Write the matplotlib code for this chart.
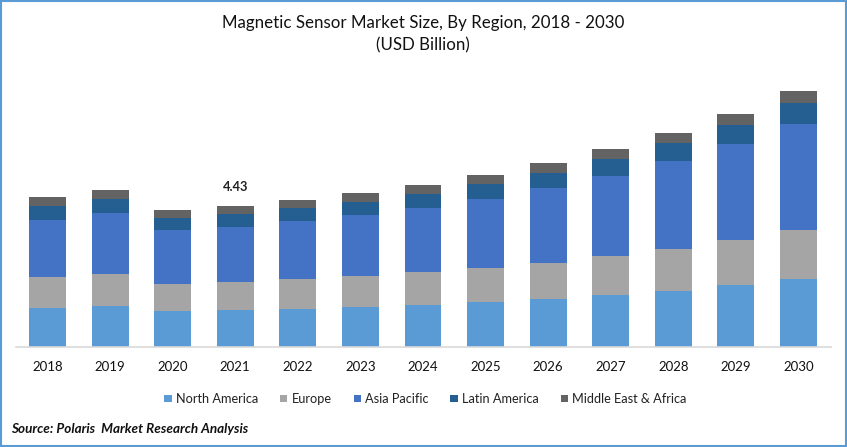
import matplotlib
matplotlib.use("Agg")
import matplotlib.pyplot as plt
from matplotlib.patches import Rectangle

years = ["2018","2019","2020","2021","2022","2023","2024","2025","2026","2027","2028","2029","2030"]
north_america = [1.23,1.29,1.13,1.16,1.19,1.26,1.32,1.41,1.51,1.63,1.76,1.95,2.14]
europe = [0.97,1.01,0.85,0.88,0.94,0.97,1.04,1.07,1.13,1.23,1.32,1.41,1.54]
asia_pacific = [1.79,1.92,1.70,1.73,1.82,1.92,2.01,2.17,2.36,2.51,2.76,3.02,3.33]
latin_america = [0.44,0.44,0.38,0.41,0.41,0.41,0.44,0.47,0.47,0.53,0.57,0.60,0.66]
mea = [0.28,0.28,0.25,0.25,0.25,0.28,0.28,0.28,0.31,0.31,0.31,0.35,0.38]
series_names = ["North America","Europe","Asia Pacific","Latin America","Middle East & Africa"]
colors = ["#5B9BD5","#A5A5A5","#4472C4","#255E91","#636363"]
series = [north_america, europe, asia_pacific, latin_america, mea]

W, H = 847, 447
plt.rcParams['font.family'] = ['Lato', 'DejaVu Sans']
fig = plt.figure(figsize=(W/100, H/100), dpi=100, facecolor="white")

# axes placement in pixels
x0, x1, ybase, ytop = 16, 831, 347, 80
ax = fig.add_axes([x0/W, 1-ybase/H, (x1-x0)/W, (ybase-ytop)/H])
pitch = 62.58
first = 47.5
ax.set_xlim((x0-first)/pitch, (x1-first)/pitch)
ax.set_ylim(0, (ybase-ytop)/31.83)

pos = list(range(len(years)))
bottom = [0.0]*len(years)
for vals, name, c in zip(series, series_names, colors):
    ax.bar(pos, vals, width=0.59, bottom=bottom, color=c, label=name, linewidth=0)
    bottom = [b+v for b, v in zip(bottom, vals)]

ax.annotate("4.43", (3, bottom[3]), xytext=(0, 9.5), textcoords="offset points",
            ha="center", va="bottom", fontsize=9.3, fontweight="bold", color="#222222")

for s in ["top","left","right"]:
    ax.spines[s].set_visible(False)
ax.spines["bottom"].set_color("#D9D9D9")
ax.spines["bottom"].set_linewidth(1.2)
ax.set_yticks([])
ax.set_xticks(pos)
ax.set_xticklabels(years, fontsize=9.5, color="#111111")
ax.tick_params(axis="x", length=0, pad=10)

leg = ax.legend(loc="center", bbox_to_anchor=((425.5-x0)/(x1-x0), (ybase-399)/(ybase-ytop)),
                ncol=5, frameon=False, fontsize=9.15, handlelength=0.58, handleheight=0.58,
                handletextpad=0.33, columnspacing=1.72, labelcolor="#222222",
                borderpad=0, borderaxespad=0)

fig.text(423/W, 1-23/H, "Magnetic Sensor Market Size, By Region, 2018 - 2030",
         ha="center", va="center", fontsize=12.2, color="#111111")
fig.text(423/W, 1-45/H, "(USD Billion)", ha="center", va="center", fontsize=12.2, color="#111111")
fig.text(11/W, 1-429/H, "Source: Polaris  Market Research Analysis", ha="left", va="center",
         fontsize=9.7, fontweight="bold", fontstyle="italic", color="#111111")

# outer border
fig.add_artist(Rectangle((1/W, 1/H), (W-2)/W, (H-2)/H, transform=fig.transFigure,
                         fill=False, edgecolor="#5B9BD5", linewidth=1.5))

fig.savefig("out.png", dpi=100, facecolor="white")
